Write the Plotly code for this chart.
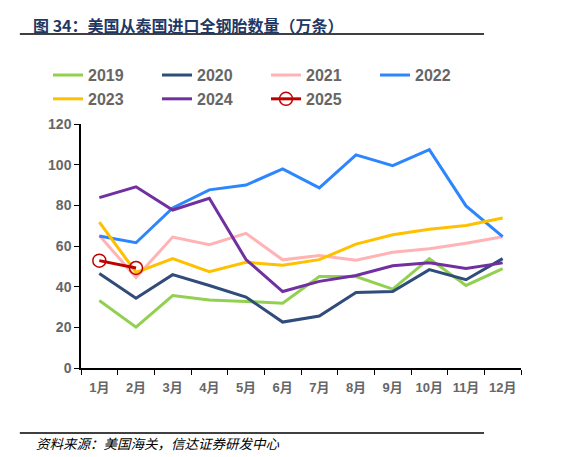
import plotly.graph_objects as go

#%% data
months = ['1月', '2月', '3月', '4月', '5月', '6月', '7月', '8月', '9月', '10月', '11月', '12月']
y2019 = [33.2, 20.1, 35.6, 33.5, 32.7, 31.9, 45.0, 45.0, 38.8, 53.8, 40.6, 48.9]
y2020 = [46.5, 34.3, 45.9, 40.6, 34.9, 22.6, 25.6, 37.1, 37.6, 48.4, 43.4, 53.8]
y2021 = [65.2, 44.5, 64.4, 60.6, 66.2, 53.2, 55.3, 53.0, 56.9, 58.6, 61.4, 64.6]
y2022 = [64.9, 61.6, 78.7, 87.6, 90.0, 97.9, 88.6, 104.8, 99.5, 107.4, 79.7, 64.6]
y2023 = [71.8, 47.0, 53.8, 47.4, 52.0, 50.5, 53.3, 60.9, 65.5, 68.2, 70.1, 73.8]
y2024 = [83.8, 89.1, 77.7, 83.5, 53.3, 37.6, 42.6, 45.5, 50.3, 51.8, 49.0, 51.7]
y2025 = [52.8, 49.2]

series = [
    ('2019', y2019, '#92D050'),
    ('2020', y2020, '#2F4C7A'),
    ('2021', y2021, '#FFB3B5'),
    ('2022', y2022, '#2E86FF'),
    ('2023', y2023, '#FFC000'),
    ('2024', y2024, '#7030A0'),
]

GRAY = '#666666'

fig = go.Figure()
for name, vals, color in series:
    fig.add_trace(go.Scatter(x=months[:len(vals)], y=vals, mode='lines', name=name,
                             line=dict(color=color, width=3)))
fig.add_trace(go.Scatter(x=months[:len(y2025)], y=y2025, mode='lines+markers', name='2025',
                         line=dict(color='#C00000', width=3),
                         marker=dict(symbol='circle-open', size=13, color='#C00000',
                                     line=dict(width=1.5, color='#C00000'))))

fig.update_layout(
    width=583, height=457,
    margin=dict(l=81, r=62, t=124, b=89),
    plot_bgcolor='white', paper_bgcolor='white',
    font=dict(family='Liberation Sans, Noto Sans CJK SC', color=GRAY),
    legend=dict(orientation='h', x=-0.075, y=1.27, xanchor='left', yanchor='top',
                entrywidth=64, entrywidthmode='pixels', traceorder='normal',
                font=dict(size=16, color=GRAY, weight='bold'), bgcolor='rgba(0,0,0,0)'),
    showlegend=True,
)
fig.update_xaxes(type='category', range=[-0.5, 11.5], showline=True, linecolor='black', linewidth=1.5,
                 ticks='outside', tickson='boundaries', ticklen=5, tickcolor='black', tickangle=0,
                 ticklabelstandoff=7,
                 showgrid=False, tickfont=dict(size=13, color=GRAY, weight='bold',
                                               family='Liberation Sans, Noto Sans CJK SC'))
fig.update_yaxes(range=[0, 120], dtick=20, showline=True, linecolor='black', linewidth=1.5,
                 ticks='outside', ticklen=5, tickcolor='black', showgrid=False, zeroline=False,
                 tickfont=dict(size=14, color=GRAY, weight='bold'))

# 标题与来源
fig.add_annotation(xref='paper', yref='paper', x=-0.113, y=1.405, xanchor='left', yanchor='middle',
                   text='<b>图 34：美国从泰国进口全钢胎数量（万条）</b>', showarrow=False,
                   font=dict(size=16, color='#1F3864', family='Noto Sans CJK SC'))
fig.add_annotation(xref='paper', yref='paper', x=-0.107, y=-0.308, xanchor='left', yanchor='middle',
                   text='<i>资料来源：美国海关，信达证券研发中心</i>', showarrow=False,
                   font=dict(size=13.5, color='black', family='Noto Sans CJK SC'))
fig.add_shape(type='line', xref='paper', yref='paper', x0=-0.139, x1=0.916, y0=1.369, y1=1.369,
              line=dict(color='black', width=1.5))
fig.add_shape(type='line', xref='paper', yref='paper', x0=-0.139, x1=0.916, y0=-0.266, y1=-0.266,
              line=dict(color='black', width=1.5))

fig.write_html('out.html', config={'displayModeBar': False},
               post_script="document.body.style.margin='0';")
